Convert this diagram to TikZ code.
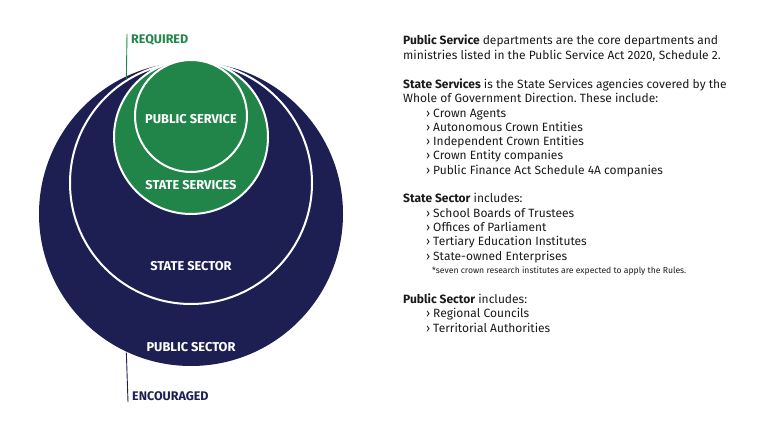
\documentclass[tikz,border=0pt]{standalone}
\usepackage{fontspec}
\setmainfont{Fira Sans}
\usetikzlibrary{positioning}
\definecolor{SectorNavy}{HTML}{1D1F52}
\definecolor{ServiceGreen}{HTML}{21854A}
\definecolor{BodyInk}{HTML}{1A1A1A}
\newcommand{\lvl}[1]{\hspace*{23pt}\makebox[7pt][l]{›}#1}
\frenchspacing

\begin{document}
\begin{tikzpicture}[x=1pt,y=-1pt,
  ring/.style={circle,draw=white,line width=2pt,inner sep=0pt},
  ringlabel/.style={text=white,inner sep=0pt,font=\bfseries\fontsize{12.8}{12.8}\selectfont},
  tag/.style={anchor=west,inner sep=0pt,font=\bfseries\fontsize{12.5}{12.5}\selectfont},
  para/.style={anchor=base west,align=left,inner sep=0pt,text=BodyInk,
               font=\fontsize{12}{14.3}\selectfont},
  lead/.style={line width=0.9pt}
]
\useasboundingbox (0,0) rectangle (770,435);
% nested circles
\node[ring,fill=SectorNavy,draw=none,minimum size=304pt] (publicsector) at (191,214) {};
\node[ring,fill=SectorNavy,minimum size=242pt] (statesector) at (191,183) {};
\node[ring,fill=ServiceGreen,minimum size=154pt] (stateservices) at (191,137) {};
\node[ring,fill=ServiceGreen,minimum size=112pt] (publicservice) at (191,116) {};
\node[ringlabel] (pslabel) at (191,119.5) {PUBLIC SERVICE};
\node[ringlabel] (sslabel) at (191,185.5) {STATE SERVICES};
\node[ringlabel] (stlabel) at (191,266.5) {STATE SECTOR};
\node[ringlabel] (pclabel) at (191,347.5) {PUBLIC SECTOR};
% required / encouraged
\node[tag,text=ServiceGreen] (required) at (131,40) {REQUIRED};
\node[tag,text=SectorNavy] (encouraged) at (132,396) {ENCOURAGED};
\coordinate (reqtop) at (127,34);
\coordinate (encbot) at (128,402);
\draw[lead,ServiceGreen] (reqtop) -- (statesector.122);
\draw[lead,SectorNavy] (publicsector.245) -- (encbot);
% descriptions (base = last line)
\node[para,font=\fontsize{12}{15}\selectfont] (psdesc) at (403,60)
 {\textbf{Public Service} departments are the core departments and\\
  ministries listed in the Public Service Act 2020, Schedule 2.};
\node[para] (ssdesc) at (403,174.3)
 {\textbf{State Services} is the State Services agencies covered by the\\
  Whole of Government Direction. These include:\\
  \lvl{Crown Agents}\\
  \lvl{Autonomous Crown Entities}\\
  \lvl{Independent Crown Entities}\\
  \lvl{Crown Entity companies}\\
  \lvl{Public Finance Act Schedule 4A companies}};
\node[para] (stdesc) at (403,260.2)
 {\textbf{State Sector} includes:\\
  \lvl{School Boards of Trustees}\\
  \lvl{Offices of Parliament}\\
  \lvl{Tertiary Education Institutes}\\
  \lvl{State-owned Enterprises}};
\node[para,font=\fontsize{8.6}{9}\selectfont] (crinote) at (432,273)
 {*seven crown research institutes are expected to apply the Rules.};
\node[para] (pcdesc) at (403,332.1)
 {\textbf{Public Sector} includes:\\
  \lvl{Regional Councils}\\
  \lvl{Territorial Authorities}};
\end{tikzpicture}
\end{document}
